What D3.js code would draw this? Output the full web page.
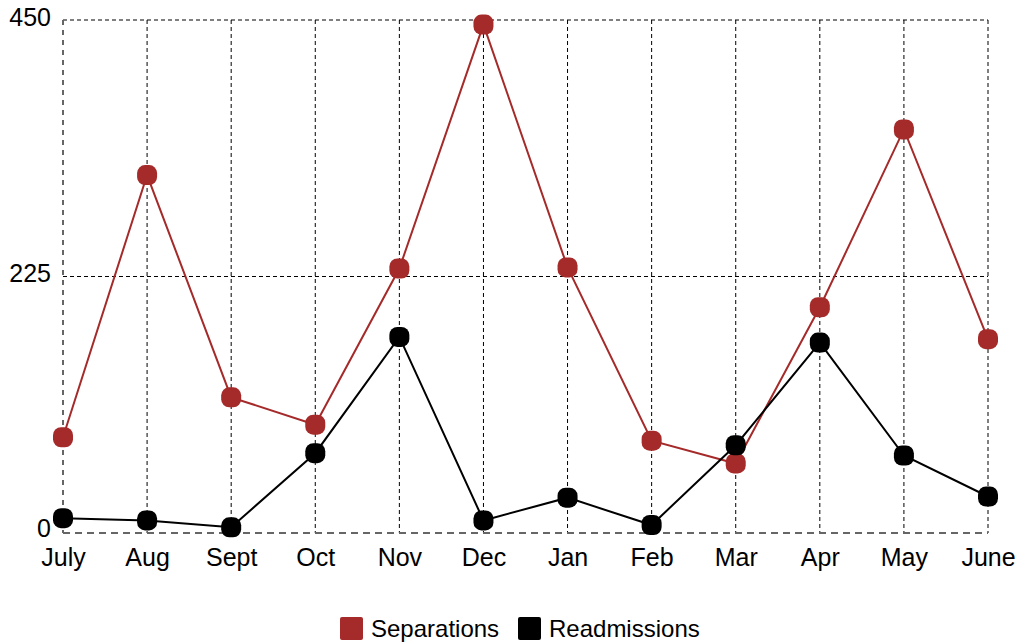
<!DOCTYPE html>
<html>
<head>
<meta charset="utf-8">
<script src="https://cdn.jsdelivr.net/npm/d3@7"></script>
<style>
  body { margin: 0; background: #fff; }
  svg text { font-family: "Liberation Sans", Arial, sans-serif; }
</style>
</head>
<body>
<div class="chart"></div>
<script>
// Month categories and series values
const months = ["July", "Aug", "Sept", "Oct", "Nov", "Dec", "Jan", "Feb", "Mar", "Apr", "May", "June"];
const separations = [84, 314, 119, 95, 232, 446, 233, 81, 61, 198, 354, 170];
const readmissions = [13, 11, 5, 70, 172, 11, 31, 7, 77, 167, 68, 32];
const yTicks = [0, 225, 450];

const W = 1027, H = 644;
const margin = { top: 20, right: 39, bottom: 111, left: 63 };
const width = W - margin.left - margin.right;
const height = H - margin.top - margin.bottom;

const svg = d3.select(".chart")
  .append("svg")
  .attr("width", W)
  .attr("height", H);

const g = svg.append("g")
  .attr("transform", `translate(${margin.left},${margin.top})`);

const x = d3.scalePoint()
  .domain(months)
  .range([0, width]);

const y = d3.scaleLinear()
  .domain([0, 450])
  .range([height, 0]);

// Grid lines
g.append("g")
  .selectAll("line.hgrid")
  .data(yTicks.filter(d => d > 0))
  .join("line")
  .attr("x1", 0).attr("x2", width)
  .attr("y1", d => y(d)).attr("y2", d => y(d))
  .attr("stroke", "#000")
  .attr("stroke-width", 1)
  .attr("stroke-dasharray", "4,3");

g.append("g")
  .selectAll("line.vgrid")
  .data(months.slice(1))
  .join("line")
  .attr("x1", d => x(d)).attr("x2", d => x(d))
  .attr("y1", 0).attr("y2", height)
  .attr("stroke", "#000")
  .attr("stroke-width", 1)
  .attr("stroke-dasharray", "4,3");

// Axis lines
g.append("line")
  .attr("x1", 0).attr("x2", 0)
  .attr("y1", 0).attr("y2", height)
  .attr("stroke", "#666")
  .attr("stroke-width", 2)
  .attr("stroke-dasharray", "5,5");

g.append("line")
  .attr("x1", 0).attr("x2", width)
  .attr("y1", height).attr("y2", height)
  .attr("stroke", "#666")
  .attr("stroke-width", 2)
  .attr("stroke-dasharray", "7,5");

// Axes labels (tick lines hidden)
const yAxis = g.append("g")
  .call(d3.axisLeft(y).tickValues(yTicks).tickSize(0).tickPadding(12));
yAxis.select(".domain").remove();
yAxis.selectAll("text")
  .attr("font-size", 25)
  .attr("fill", "#000")
  .attr("dy", d => d === 0 ? "0.15em" : "0.2em");

const xAxis = g.append("g")
  .attr("transform", `translate(0,${height})`)
  .call(d3.axisBottom(x).tickSize(0).tickPadding(15));
xAxis.select(".domain").remove();
xAxis.selectAll("text")
  .attr("font-size", 25)
  .attr("fill", "#000");

// Series
const series = [
  { name: "Separations", values: separations, color: "#a52a2a" },
  { name: "Readmissions", values: readmissions, color: "#000000" }
];

const line = d3.line()
  .x((d, i) => x(months[i]))
  .y(d => y(d));

const ms = 20;
series.forEach(s => {
  g.append("path")
    .datum(s.values)
    .attr("fill", "none")
    .attr("stroke", s.color)
    .attr("stroke-width", 2)
    .attr("d", line);

  g.append("g")
    .selectAll("rect")
    .data(s.values)
    .join("rect")
    .attr("x", (d, i) => x(months[i]) - ms / 2)
    .attr("y", d => y(d) - ms / 2)
    .attr("width", ms)
    .attr("height", ms)
    .attr("rx", 8)
    .attr("fill", s.color);
});

// Legend
const legend = svg.append("g").attr("transform", "translate(340,617)");
const legendX = [0, 178];
series.forEach((s, i) => {
  const lg = legend.append("g").attr("transform", `translate(${legendX[i]},0)`);
  lg.append("rect")
    .attr("width", 23).attr("height", 23)
    .attr("rx", 2)
    .attr("fill", s.color);
  lg.append("text")
    .attr("x", 31).attr("y", 20)
    .attr("font-size", 24)
    .attr("fill", "#000")
    .text(s.name);
});
</script>
</body>
</html>
